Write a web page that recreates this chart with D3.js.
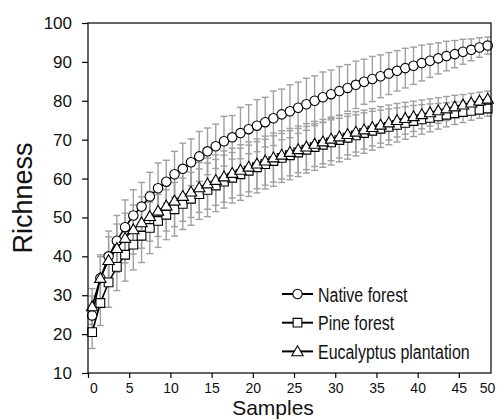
<!DOCTYPE html>
<html>
<head>
<meta charset="utf-8">
<script src="https://cdn.jsdelivr.net/npm/d3@7"></script>
<style>
  body { margin: 0; background: #fff; }
  svg { display: block; font-family: "Liberation Sans", Arial, sans-serif; }
</style>
</head>
<body>
<div id="chart"></div>
<script>
// sample positions (markers sit half a unit right of each integer)
const samples = [0.5, 1.5, 2.5, 3.5, 4.5, 5.5, 6.5, 7.5, 8.5, 9.5,
  10.5, 11.5, 12.5, 13.5, 14.5, 15.5, 16.5, 17.5, 18.5, 19.5,
  20.5, 21.5, 22.5, 23.5, 24.5, 25.5, 26.5, 27.5, 28.5, 29.5,
  30.5, 31.5, 32.5, 33.5, 34.5, 35.5, 36.5, 37.5, 38.5, 39.5,
  40.5, 41.5, 42.5, 43.5, 44.5, 45.5, 46.5, 47.5, 48.5];

const nativeMean = [24.8, 34.4, 40.0, 44.0, 47.5, 50.5, 52.8, 55.4, 57.5, 59.2,
  61.1, 62.5, 64.2, 65.7, 67.0, 68.3, 69.6, 70.6, 71.7, 72.7,
  73.6, 74.5, 75.5, 76.5, 77.3, 78.2, 79.1, 80.0, 80.9, 81.7,
  82.5, 83.3, 84.1, 84.9, 85.6, 86.3, 87.0, 87.7, 88.4, 89.0,
  89.7, 90.3, 90.9, 91.5, 92.0, 92.6, 93.1, 93.7, 94.2];
const nativeSd = [5.0, 6.0, 6.5, 6.5, 7.0, 6.6, 6.2, 6.2, 6.5, 5.5,
  5.9, 6.6, 6.0, 6.4, 6.0, 5.7, 6.4, 5.6, 6.6, 6.3,
  6.7, 6.4, 7.0, 6.5, 6.8, 6.6, 6.7, 6.4, 6.5, 6.2,
  6.3, 6.0, 6.1, 5.8, 5.8, 5.5, 5.4, 5.2, 5.1, 4.8,
  4.6, 4.3, 4.0, 3.8, 3.5, 3.2, 2.8, 2.5, 2.2];

const pineMean = [20.5, 28.0, 33.3, 37.3, 40.4, 43.0, 45.3, 47.3, 49.1, 50.7,
  52.1, 53.5, 54.8, 56.0, 57.1, 58.2, 59.2, 60.2, 61.1, 62.0,
  62.9, 63.7, 64.5, 65.3, 66.0, 66.7, 67.4, 68.1, 68.7, 69.3,
  69.9, 70.5, 71.1, 71.7, 72.3, 72.8, 73.3, 73.8, 74.3, 74.8,
  75.2, 75.6, 76.0, 76.4, 76.8, 77.1, 77.4, 77.7, 78.0];
const pineSd = [4.2, 5.8, 6.4, 6.1, 6.8, 6.5, 6.9, 6.6, 6.8, 6.4,
  6.9, 6.6, 6.8, 6.5, 6.9, 6.7, 6.8, 6.5, 6.7, 6.6,
  6.6, 6.4, 6.5, 6.3, 6.3, 6.2, 6.0, 6.0, 5.8, 5.8,
  5.6, 5.5, 5.3, 5.2, 5.0, 4.8, 4.6, 4.4, 4.2, 4.0,
  3.8, 3.6, 3.3, 3.1, 2.9, 2.7, 2.4, 2.2, 2.0];

const eucMean = [27.1, 34.4, 39.0, 42.1, 44.7, 46.9, 48.7, 50.3, 51.7, 53.0,
  54.3, 55.5, 56.6, 57.7, 58.7, 59.6, 60.5, 61.4, 62.2, 63.0,
  63.8, 64.6, 65.4, 66.1, 66.8, 67.5, 68.2, 68.9, 69.5, 70.2,
  70.8, 71.4, 72.0, 72.6, 73.2, 73.8, 74.4, 75.0, 75.5, 76.0,
  76.5, 77.0, 77.5, 78.0, 78.5, 79.0, 79.5, 80.0, 80.5];
const eucSd = [4.6, 5.5, 6.0, 6.2, 6.4, 6.3, 6.6, 6.4, 6.6, 6.5,
  6.7, 6.5, 6.6, 6.4, 6.6, 6.5, 6.6, 6.4, 6.5, 6.4,
  6.4, 6.3, 6.3, 6.2, 6.1, 6.0, 5.9, 5.8, 5.7, 5.6,
  5.5, 5.3, 5.2, 5.0, 4.8, 4.7, 4.5, 4.3, 4.1, 3.9,
  3.7, 3.5, 3.3, 3.1, 2.9, 2.6, 2.4, 2.2, 2.0];

const seriesNames = ['Native forest', 'Pine forest', 'Eucalyptus plantation'];
const seriesShapes = ['circle', 'square', 'triangle'];
const xTicks = [0, 5, 10, 15, 20, 25, 30, 35, 40, 45, 50];
const yTicks = [10, 20, 30, 40, 50, 60, 70, 80, 90, 100];

const series = [
  {name: seriesNames[0], shape: seriesShapes[0], mean: nativeMean, sd: nativeSd},
  {name: seriesNames[1], shape: seriesShapes[1], mean: pineMean, sd: pineSd},
  {name: seriesNames[2], shape: seriesShapes[2], mean: eucMean, sd: eucSd}
];

const width = 501, height = 420, margin = {top: 23, right: 10, bottom: 47, left: 88};
const svg = d3.select('#chart').append('svg').attr('width', width).attr('height', height);

const x = d3.scaleLinear().domain([0, 48.9]).range([margin.left, width - margin.right]);
const y = d3.scaleLinear().domain([10, 100]).range([height - margin.bottom, margin.top]);

function markerPath(shape) {
  if (shape === 'circle') return d3.symbol(d3.symbolCircle, 70)();
  if (shape === 'square') return d3.symbol(d3.symbolSquare, 76)();
  return d3.symbol(d3.symbolTriangle, 56)();
}

// error bars
const barColor = '#a0a0a0';
const capW = 3.5;
series.forEach(s => {
  const g = svg.append('g').attr('stroke', barColor).attr('stroke-width', 1.4);
  samples.forEach((sx, i) => {
    const lo = y(s.mean[i] - s.sd[i]), hi = y(s.mean[i] + s.sd[i]), cx = x(sx);
    g.append('line').attr('x1', cx).attr('x2', cx).attr('y1', lo).attr('y2', hi);
    g.append('line').attr('x1', cx - capW).attr('x2', cx + capW).attr('y1', lo).attr('y2', lo);
    g.append('line').attr('x1', cx - capW).attr('x2', cx + capW).attr('y1', hi).attr('y2', hi);
  });
});

// lines and markers
const line = d3.line().x(d => x(d[0])).y(d => y(d[1]));
series.forEach(s => {
  const pts = samples.map((sx, i) => [sx, s.mean[i]]);
  svg.append('path').datum(pts).attr('d', line)
    .attr('fill', 'none').attr('stroke', '#000').attr('stroke-width', 1.6);
});
series.forEach(s => {
  const pts = samples.map((sx, i) => [sx, s.mean[i]]);
  const dy = s.shape === 'triangle' ? 1 : 0;
  svg.append('g').selectAll('path').data(pts).join('path')
    .attr('d', markerPath(s.shape))
    .attr('transform', d => `translate(${x(d[0])},${y(d[1]) + dy})`)
    .attr('fill', '#fff').attr('stroke', '#000').attr('stroke-width', 1.1);
});

// frame
svg.append('rect')
  .attr('x', margin.left).attr('y', margin.top)
  .attr('width', width - margin.right - margin.left)
  .attr('height', height - margin.bottom - margin.top)
  .attr('fill', 'none').attr('stroke', '#000').attr('stroke-width', 1.2);

// axes
const yAxis = svg.append('g').attr('transform', `translate(${margin.left},0)`)
  .call(d3.axisLeft(y).tickValues(yTicks).tickSize(6).tickPadding(10));
yAxis.select('.domain').remove();
yAxis.selectAll('text').attr('font-size', 17).attr('fill', '#111').attr('font-family', '"Liberation Sans", Arial, sans-serif');
yAxis.selectAll('line').attr('stroke-width', 1.2);

const xAxis = svg.append('g').attr('transform', `translate(0,${height - margin.bottom})`)
  .call(d3.axisBottom(x).tickValues(xTicks).tickSize(5).tickPadding(5));
xAxis.select('.domain').remove();
xAxis.selectAll('text').attr('font-size', 14).attr('fill', '#111').attr('font-family', '"Liberation Sans", Arial, sans-serif');
xAxis.selectAll('line').attr('stroke-width', 1.2);
xAxis.selectAll('.tick').filter(d => d === 0).select('text').attr('dx', 5.5);
xAxis.selectAll('.tick').filter(d => d === 50).select('line').remove();
xAxis.selectAll('.tick').filter(d => d === 50).select('text').attr('dx', -13);

// axis titles
svg.append('text')
  .attr('transform', `translate(32,${(margin.top + height - margin.bottom) / 2}) rotate(-90)`)
  .attr('text-anchor', 'middle').attr('font-size', 27).attr('fill', '#111')
  .text('Richness');
svg.append('text')
  .attr('x', 273).attr('y', 415)
  .attr('text-anchor', 'middle').attr('font-size', 21).attr('fill', '#111')
  .text('Samples');

// legend
const legend = svg.append('g').attr('transform', 'translate(282,294)');
series.forEach((s, i) => {
  const row = legend.append('g').attr('transform', `translate(0,${i * 28.7})`);
  row.append('line').attr('x1', 0).attr('x2', 31).attr('y1', 0).attr('y2', 0)
    .attr('stroke', '#000').attr('stroke-width', 2);
  row.append('path').attr('d', markerPath(s.shape))
    .attr('transform', `translate(15.5,${s.shape === 'triangle' ? 1 : 0})`)
    .attr('fill', '#fff').attr('stroke', '#000').attr('stroke-width', 1.1);
  row.append('text')
    .attr('transform', 'translate(36,7.5) scale(0.76,1)')
    .attr('font-size', 21).attr('fill', '#111')
    .text(s.name);
});
</script>
</body>
</html>
